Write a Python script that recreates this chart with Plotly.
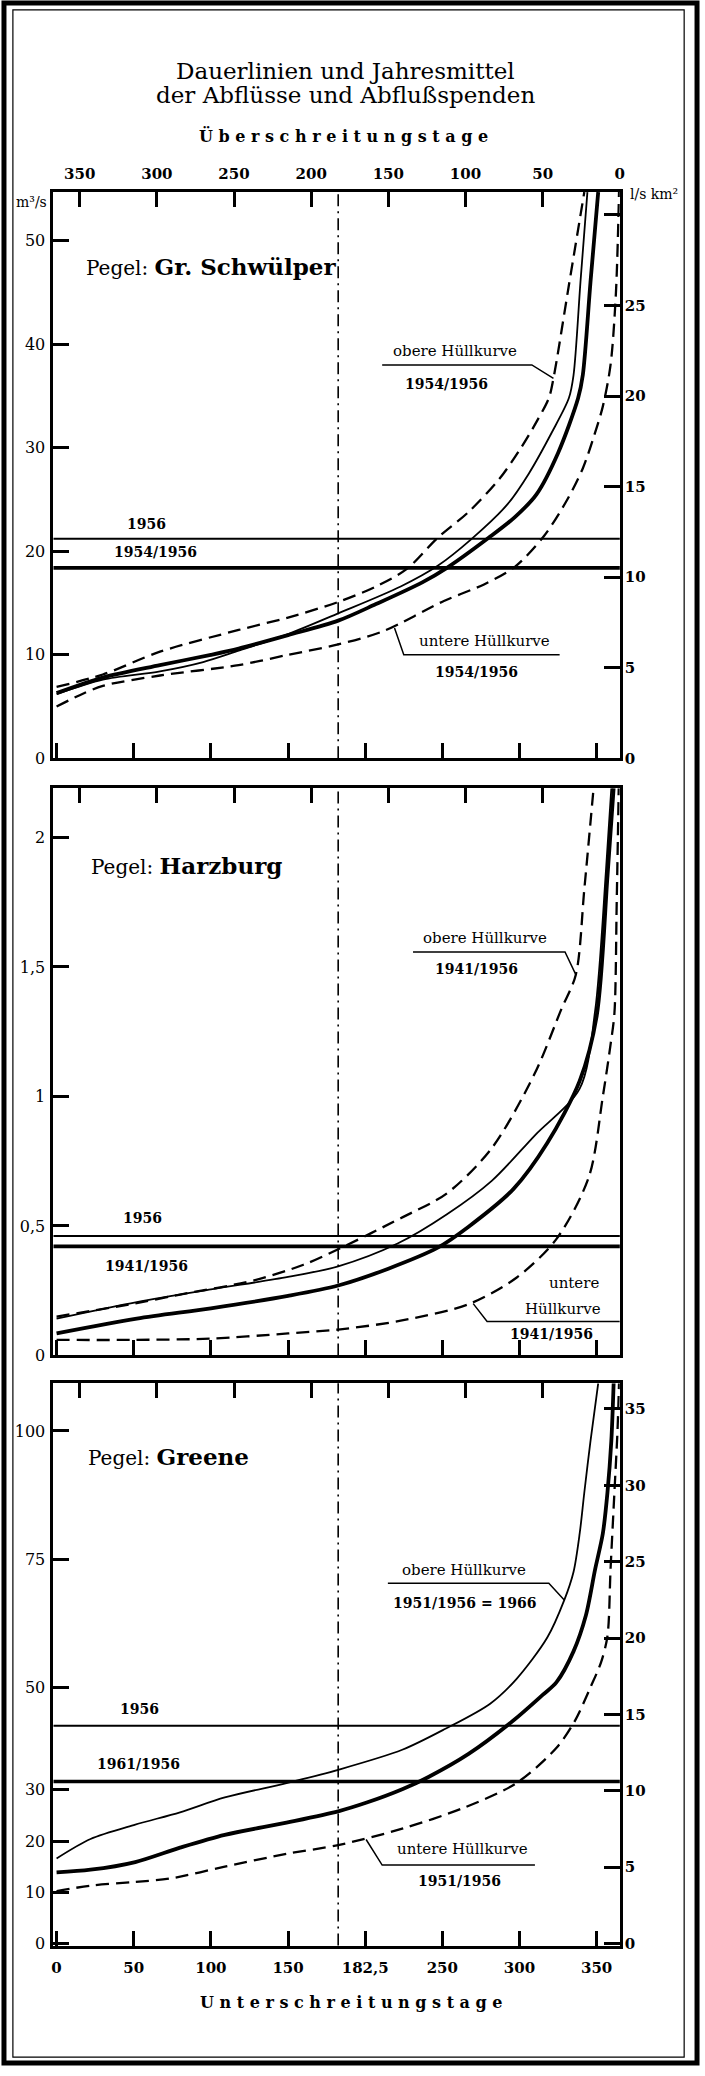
import plotly.graph_objects as go

W, H = 705, 2076
SERIF = "DejaVu Serif"

# ---------------- Gr. Schwülper (m³/s over Unterschreitungstage) ----------------
gs_mean_days = [0, 30, 67, 100, 118, 150, 182.5, 207, 237, 253, 280, 297, 311, 325, 338, 341, 346, 351]
gs_mean_q = [6.3, 7.8, 9.0, 10.0, 10.6, 11.9, 13.3, 14.9, 17.0, 18.4, 21.3, 23.3, 25.5, 29.5, 34.8, 37.0, 46.0, 54.7]
gs_1956_days = [0, 30, 67, 95, 118, 150, 182.5, 223, 247, 269, 292, 306, 321, 332, 335, 339.5, 344]
gs_1956_q = [6.2, 7.6, 8.4, 9.3, 10.4, 12.0, 14.0, 16.6, 18.6, 21.2, 24.5, 27.5, 31.5, 34.8, 37.0, 46.0, 54.7]
gs_upper_days = [0, 30, 67, 118, 150, 182.5, 207, 227, 247, 267, 287, 301, 311, 319, 322, 332, 342]
gs_upper_q = [6.9, 8.1, 10.3, 12.4, 13.6, 15.1, 16.6, 18.3, 21.3, 23.8, 27.0, 30.0, 32.5, 34.8, 36.7, 45.7, 54.7]
gs_lower_days = [0, 15, 30, 67, 118, 150, 182.5, 212, 251, 277, 297, 316, 331, 341, 348, 354, 359, 362.5, 364.5]
gs_lower_q = [5.0, 6.1, 7.0, 8.0, 9.0, 10.0, 11.0, 12.3, 15.2, 16.8, 18.5, 21.5, 25.0, 28.0, 31.0, 34.0, 38.0, 45.0, 54.7]
gs_mq_1956 = 21.2
gs_mq_period = 18.4
gs_ticks_left = [0, 10, 20, 30, 40, 50]
gs_ticks_right = [0, 5, 10, 15, 20, 25, 30]
gs_ticktext_right = ["0", "5", "10", "15", "20", "25", ""]
gs_range = [0, 54.7]
gs_area_factor = 1.75      # m³/s per l/s km²

# ---------------- Harzburg ----------------
hz_mean_days = [0, 52, 100, 150, 182.5, 215, 247, 267, 296, 318, 339, 350, 357, 361]
hz_mean_q = [0.085, 0.142, 0.182, 0.23, 0.27, 0.335, 0.416, 0.497, 0.642, 0.82, 1.06, 1.31, 1.85, 2.19]
hz_1956_days = [0, 52, 100, 150, 182.5, 221, 253, 282, 310, 339, 349, 356, 359.5]
hz_1956_q = [0.142, 0.206, 0.255, 0.303, 0.344, 0.432, 0.545, 0.674, 0.85, 1.03, 1.33, 1.87, 2.19]
hz_upper_days = [0, 50, 80, 128, 160, 182.5, 223, 253, 282, 310, 327, 336.5, 342, 348]
hz_upper_q = [0.15, 0.20, 0.235, 0.29, 0.35, 0.41, 0.53, 0.626, 0.80, 1.09, 1.335, 1.47, 1.80, 2.19]
hz_lower_days = [0, 50, 100, 150, 182.5, 223, 267, 298, 324, 345, 354, 359, 361.5, 363, 364.3]
hz_lower_q = [0.06, 0.06, 0.065, 0.085, 0.10, 0.134, 0.198, 0.30, 0.45, 0.69, 1.0, 1.2, 1.32, 1.75, 2.19]
hz_mq_1956 = 0.461
hz_mq_period = 0.421
hz_ticks_left = [0, 0.5, 1, 1.5, 2]
hz_ticktext_left = ["0", "0,5", "1", "1,5", "2"]
hz_range = [0, 2.19]

# ---------------- Greene ----------------
gr_mean_days = [0, 22, 51, 80, 109, 149, 182.5, 201, 224, 241, 267, 296, 315, 324, 335, 343, 349, 354, 357, 359.5, 361]
gr_mean_q = [13.9, 14.4, 15.9, 18.7, 21.2, 23.6, 25.8, 27.5, 30.1, 32.5, 37.0, 43.5, 48.5, 51.0, 57.0, 64.0, 73.0, 80.0, 88.0, 98.0, 109.3]
gr_1956_days = [0, 22, 51, 80, 109, 149, 182.5, 224, 252, 281, 298, 318, 329, 335, 339, 342, 346, 351]
gr_1956_q = [16.6, 20.4, 23.2, 25.6, 28.5, 31.3, 33.9, 37.8, 41.9, 46.8, 51.6, 59.7, 67.0, 72.5, 80.0, 88.0, 98.0, 109.3]
gr_lower_days = [0, 22, 50, 74, 109, 149, 182.5, 224, 264, 298, 324, 336, 346, 353, 357, 359, 361.5, 363.5, 364.5]
gr_lower_q = [10.2, 11.3, 12.0, 12.7, 15.0, 17.5, 19.2, 22.4, 26.5, 31.3, 38.2, 43.5, 50.0, 55.0, 60.0, 73.0, 88.0, 100.0, 109.3]
gr_mq_1956 = 42.5
gr_mq_period = 31.6
gr_ticks_left = [0, 10, 20, 30, 50, 75, 100]
gr_ticks_right = [0, 5, 10, 15, 20, 25, 30, 35]
gr_range = [-0.4, 109.3]
gr_area_factor = 2.98

# ---------------- shared axes ----------------
under_ticks = [0, 50, 100, 150, 200, 250, 300, 350]
under_ticktext = ["0", "50", "100", "150", "182,5", "250", "300", "350"]
over_ticks = [350, 300, 250, 200, 150, 100, 50, 0]
median_day = 182.5
x_range = [-2, 365]
over_range = [367, 0]

# frame pixel boxes
X0, X1 = 52, 624
panels_y = [(193, 762), (792, 1362), (1390, 1955)]


def pxx(x):
    return x / W


def pxy(y):
    return 1 - y / H


fig = go.Figure()

panels = [
    dict(mean=(gs_mean_days, gs_mean_q), y56=(gs_1956_days, gs_1956_q),
         upper=(gs_upper_days, gs_upper_q), lower=(gs_lower_days, gs_lower_q),
         mq=(gs_mq_1956, gs_mq_period), rng=gs_range),
    dict(mean=(hz_mean_days, hz_mean_q), y56=(hz_1956_days, hz_1956_q),
         upper=(hz_upper_days, hz_upper_q), lower=(hz_lower_days, hz_lower_q),
         mq=(hz_mq_1956, hz_mq_period), rng=hz_range),
    dict(mean=(gr_mean_days, gr_mean_q), y56=(gr_1956_days, gr_1956_q),
         upper=None, lower=(gr_lower_days, gr_lower_q),
         mq=(gr_mq_1956, gr_mq_period), rng=gr_range),
]

DASH = "13px,7px"
shapes = []
for i, p in enumerate(panels):
    xa = "x" if i == 0 else f"x{2 * i + 1}"
    ya = "y" if i == 0 else f"y{2 * i + 1}"

    def add(curve, width, dash=None):
        if curve is None:
            return
        fig.add_trace(go.Scatter(
            x=curve[0], y=curve[1], mode="lines", xaxis=xa, yaxis=ya,
            line=dict(color="black", width=width, dash=dash, shape="spline", smoothing=0.85),
            hoverinfo="skip"))

    add(p["lower"], 2.3, DASH)
    add(p["upper"], 2.3, DASH)
    add(p["y56"], 1.8)
    add(p["mean"], 3.8)

    # mean annual discharge lines
    shapes.append(dict(type="line", xref=f"{xa} domain", yref=ya, x0=0, x1=1,
                       y0=p["mq"][0], y1=p["mq"][0], line=dict(color="black", width=2)))
    shapes.append(dict(type="line", xref=f"{xa} domain", yref=ya, x0=0, x1=1,
                       y0=p["mq"][1], y1=p["mq"][1], line=dict(color="black", width=3.6)))
    # median day
    shapes.append(dict(type="line", xref=xa, yref=f"{ya} domain", x0=median_day, x1=median_day,
                       y0=0, y1=1, line=dict(color="black", width=1.6, dash="12px,5px,2px,5px")))

# empty traces so the overlay axes exist
for i in range(3):
    fig.add_trace(go.Scatter(x=[], y=[], xaxis=f"x{2 * i + 2}",
                             yaxis="y" if i == 0 else f"y{2 * i + 1}", showlegend=False))
for i in (0, 2):
    fig.add_trace(go.Scatter(x=[], y=[], xaxis="x" if i == 0 else f"x{2 * i + 1}",
                             yaxis=f"y{2 * i + 2}", showlegend=False))

num_font = dict(family=SERIF, size=16, color="black")
bold_num = dict(family=SERIF, size=15, color="black", weight="bold")

layout = dict(width=W, height=H, margin=dict(l=0, r=0, t=0, b=0),
              paper_bgcolor="white", plot_bgcolor="white", showlegend=False)

for i, (top, bot) in enumerate(panels_y):
    dom_y = [pxy(bot), pxy(top)]
    bx = "xaxis" if i == 0 else f"xaxis{2 * i + 1}"
    tx = f"xaxis{2 * i + 2}"
    ly = "yaxis" if i == 0 else f"yaxis{2 * i + 1}"
    ry = f"yaxis{2 * i + 2}"
    yref = "y" if i == 0 else f"y{2 * i + 1}"
    xref = "x" if i == 0 else f"x{2 * i + 1}"
    rng = panels[i]["rng"]

    layout[bx] = dict(domain=[pxx(X0), pxx(X1)], range=x_range, anchor=yref,
                      showgrid=False, zeroline=False, showline=True, mirror=True,
                      linecolor="black", linewidth=3, ticks="inside", ticklen=15,
                      tickwidth=2.5, tickcolor="black", tickvals=under_ticks,
                      ticktext=under_ticktext, showticklabels=(i == 2),
                      tickfont=bold_num, ticklabelstandoff=6)
    layout[tx] = dict(overlaying=xref, anchor=yref, side="top", range=over_range,
                      showgrid=False, zeroline=False, showline=False,
                      ticks="inside", ticklen=15, tickwidth=2.5, tickcolor="black",
                      tickvals=over_ticks, ticktext=[str(v) for v in over_ticks],
                      showticklabels=(i == 0), tickfont=bold_num, ticklabelstandoff=9)
    if i == 0:
        lt, ltt = gs_ticks_left, [str(v) for v in gs_ticks_left]
    elif i == 1:
        lt, ltt = hz_ticks_left, hz_ticktext_left
    else:
        lt, ltt = gr_ticks_left, [str(v) for v in gr_ticks_left]
    layout[ly] = dict(domain=dom_y, range=rng, anchor=xref, showgrid=False, zeroline=False,
                      showline=True, mirror=True, linecolor="black", linewidth=3,
                      ticks="inside", ticklen=16, tickwidth=3, tickcolor="black",
                      tickvals=lt, ticktext=ltt, tickfont=num_font, ticklabelstandoff=2)
    if i == 0:
        layout[ry] = dict(overlaying=yref, anchor=xref, side="right",
                          range=[rng[0] / gs_area_factor, rng[1] / gs_area_factor],
                          showgrid=False, zeroline=False, showline=False,
                          ticks="inside", ticklen=16, tickwidth=3, tickcolor="black",
                          tickvals=gs_ticks_right, ticktext=gs_ticktext_right,
                          tickfont=bold_num, ticklabelstandoff=4)
    elif i == 2:
        layout[ry] = dict(overlaying=yref, anchor=xref, side="right",
                          range=[rng[0] / gr_area_factor, rng[1] / gr_area_factor],
                          showgrid=False, zeroline=False, showline=False,
                          ticks="inside", ticklen=16, tickwidth=3, tickcolor="black",
                          tickvals=gr_ticks_right, ticktext=[str(v) for v in gr_ticks_right],
                          tickfont=bold_num, ticklabelstandoff=4)
    else:
        layout[ry] = dict(overlaying=yref, anchor=xref, side="right", range=rng,
                          visible=False)

# leader lines of the envelope labels (data coordinates of each panel)
leaders = [
    ("x", "y", [(211, 38.0), (308, 38.0), (322, 36.7)]),
    ("x", "y", [(219, 12.6), (225, 10.0), (326, 10.0)]),
    ("x3", "y3", [(231, 1.558), (329.5, 1.558), (336.5, 1.47)]),
    ("x3", "y3", [(270, 0.20), (279, 0.131), (365, 0.131)]),
    ("x5", "y5", [(214.7, 70.3), (319, 70.3), (329, 67.0)]),
    ("x5", "y5", [(200.6, 20.3), (211, 15.3), (310, 15.3)]),
]
for xr, yr, pts in leaders:
    path = "M " + " L ".join(f"{a},{b}" for a, b in pts)
    shapes.append(dict(type="path", xref=xr, yref=yr, path=path,
                       line=dict(color="black", width=1.5)))

# page border
shapes += [
    dict(type="rect", xref="paper", yref="paper", x0=pxx(2), x1=pxx(702), y0=pxy(2073), y1=pxy(3),
         line=dict(color="black", width=5)),
    dict(type="rect", xref="paper", yref="paper", x0=pxx(11), x1=pxx(689), y0=pxy(2067), y1=pxy(10),
         line=dict(color="black", width=1.2)),
]
layout["shapes"] = shapes

lab = dict(family=SERIF, size=15, color="black")
yr_font = dict(family=SERIF, size=14, color="black", weight="bold")
pegel_font = dict(family=SERIF, size=20, color="black")


def ann(text, x, y, xref, yref, font, xanchor="center", yanchor="middle"):
    return dict(text=text, x=x, y=y, xref=xref, yref=yref, showarrow=False,
                font=font, xanchor=xanchor, yanchor=yanchor)


annotations = [
    ann("Dauerlinien und Jahresmittel", pxx(347), pxy(71), "paper", "paper",
        dict(family=SERIF, size=23, color="black")),
    ann("der Abflüsse und Abflußspenden", pxx(347), pxy(95), "paper", "paper",
        dict(family=SERIF, size=23, color="black")),
    ann("Ü b e r s c h r e i t u n g s t a g e", pxx(345), pxy(137), "paper", "paper",
        dict(family=SERIF, size=16, color="black", weight="bold")),
    ann("U n t e r s c h r e i t u n g s t a g e", pxx(353), pxy(2012), "paper", "paper",
        dict(family=SERIF, size=16, color="black", weight="bold")),
    ann("m³/s", pxx(30), pxy(203), "paper", "paper", dict(family=SERIF, size=14, color="black")),
    ann("l/s km²", pxx(659), pxy(195), "paper", "paper", dict(family=SERIF, size=14, color="black")),

    # Gr. Schwülper
    ann('Pegel: <span style="font-size:23px"><b>Gr. Schwülper</b></span>', 18, 47.5, "x", "y",
        pegel_font, xanchor="left"),
    ann("obere Hüllkurve", 258, 39.3, "x", "y", lab),
    ann("1954/1956", 253, 36.2, "x", "y", yr_font),
    ann("untere Hüllkurve", 277.6, 11.3, "x", "y", lab),
    ann("1954/1956", 272, 8.3, "x", "y", yr_font),
    ann("1956", 58, 22.6, "x", "y", yr_font),
    ann("1954/1956", 64, 19.9, "x", "y", yr_font),

    # Harzburg
    ann('Pegel: <span style="font-size:23px"><b>Harzburg</b></span>', 21, 1.89, "x3", "y3",
        pegel_font, xanchor="left"),
    ann("obere Hüllkurve", 277.6, 1.61, "x3", "y3", lab),
    ann("1941/1956", 272, 1.49, "x3", "y3", yr_font),
    ann("untere", 335, 0.28, "x3", "y3", lab),
    ann("Hüllkurve", 328, 0.18, "x3", "y3", lab),
    ann("1941/1956", 320.5, 0.081, "x3", "y3", yr_font),
    ann("1956", 56, 0.53, "x3", "y3", yr_font),
    ann("1941/1956", 58, 0.346, "x3", "y3", yr_font),

    # Greene
    ann('Pegel: <span style="font-size:23px"><b>Greene</b></span>', 19, 95, "x5", "y5",
        pegel_font, xanchor="left"),
    ann("obere Hüllkurve", 264, 72.9, "x5", "y5", lab),
    ann("1951/1956 = 1966", 265, 66.5, "x5", "y5", yr_font),
    ann("untere Hüllkurve", 263, 18.5, "x5", "y5", lab),
    ann("1951/1956", 261, 12.2, "x5", "y5", yr_font),
    ann("1956", 54, 45.8, "x5", "y5", yr_font),
    ann("1961/1956", 53, 35.0, "x5", "y5", yr_font),
]
layout["annotations"] = annotations

fig.update_layout(**layout)
fig.write_html("out.html")
